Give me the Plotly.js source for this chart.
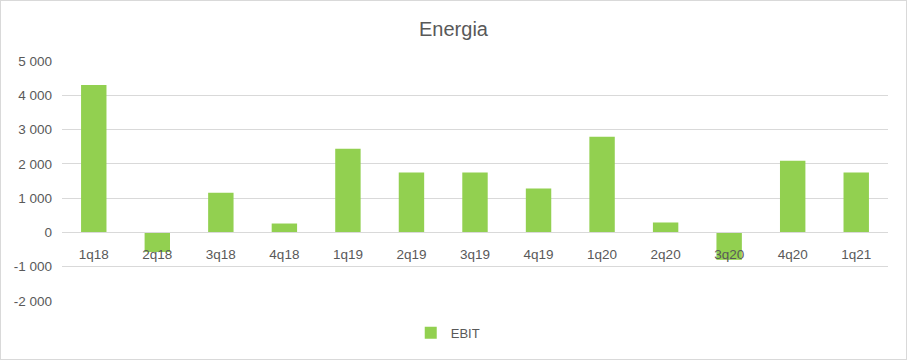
<!DOCTYPE html>
<html>
<head>
<meta charset="utf-8">
<script src="https://cdn.plot.ly/plotly-3.0.1.min.js"></script>
<style>
  html, body { margin: 0; padding: 0; background: #fff; }
  #wrap { position: relative; width: 907px; height: 360px; }
  #chart { width: 907px; height: 360px; }
  #frame { position: absolute; left: 0; top: 0; width: 907px; height: 360px; box-sizing: border-box; border: 1px solid #d9d9d9; pointer-events: none; }
</style>
</head>
<body>
<div id="wrap"><div id="chart"></div><div id="frame"></div></div>
<script>
const categories = ["1q18","2q18","3q18","4q18","1q19","2q19","3q19","4q19","1q20","2q20","3q20","4q20","1q21"];
const ebit = [4300, -570, 1160, 260, 2440, 1745, 1745, 1280, 2790, 290, -800, 2090, 1745];
const yTickVals = [-2000, -1000, 0, 1000, 2000, 3000, 4000, 5000];
const yTickText = ["-2 000", "-1 000", "0", "1 000", "2 000", "3 000", "4 000", "5 000"];
const yMin = -2000, yMax = 5000;

const font = "Liberation Sans, Arial, sans-serif";
const grey = "#595959";

Plotly.newPlot("chart", [{
  type: "bar",
  name: "EBIT",
  x: categories,
  y: ebit,
  marker: { color: "#92D050" },
  width: 0.4,
  hoverinfo: "x+y"
}], {
  width: 907,
  height: 360,
  margin: { l: 62, r: 19, t: 61, b: 57 },
  paper_bgcolor: "#fff",
  plot_bgcolor: "#fff",
  title: { text: "Energia", font: { family: font, size: 20, color: grey }, x: 0.5, xanchor: "center", xref: "container", y: 0.92, yanchor: "middle" },
  showlegend: true,
  legend: { orientation: "h", x: 0.467, xanchor: "center", y: -0.132, yanchor: "middle", itemwidth: 30, font: { family: font, size: 13, color: grey } },
  xaxis: {
    type: "category",
    anchor: "free",
    position: (0 - yMin) / (yMax - yMin),
    showgrid: false,
    showline: true,
    linecolor: "#d9d9d9",
    linewidth: 1,
    ticks: "",
    ticklabelstandoff: 9,
    tickfont: { family: font, size: 13.5, color: grey },
    fixedrange: true
  },
  yaxis: {
    range: [yMin, yMax],
    tickvals: yTickVals,
    ticktext: yTickText,
    showgrid: true,
    gridcolor: "#d9d9d9",
    gridwidth: 1,
    zeroline: false,
    showline: false,
    ticks: "",
    ticklabelstandoff: 9,
    tickfont: { family: font, size: 13.5, color: grey },
    fixedrange: true
  }
}, { displayModeBar: false });
</script>
</body>
</html>
